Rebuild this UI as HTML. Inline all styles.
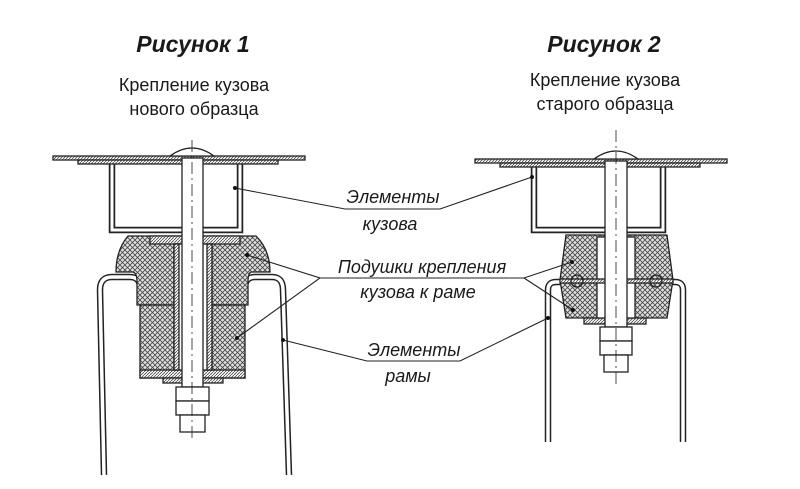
<!DOCTYPE html>
<html><head><meta charset="utf-8"><style>
html,body{margin:0;padding:0;background:#fff}
svg{display:block}
text{font-family:"Liberation Sans",sans-serif;fill:#1a1a1a}
</style></head><body>
<svg width="800" height="489" viewBox="0 0 800 489" xmlns="http://www.w3.org/2000/svg">
<defs>
<pattern id="hx" width="5" height="5" patternUnits="userSpaceOnUse">
<rect width="5" height="5" fill="#e0e0e0"/>
<path d="M0 0L5 5M5 0L0 5" stroke="#444" stroke-width="0.8"/>
</pattern>
<pattern id="hd" width="3" height="3" patternUnits="userSpaceOnUse">
<rect width="3" height="3" fill="#fff"/>
<path d="M0 3L3 0" stroke="#444" stroke-width="0.8"/>
</pattern>
</defs>
<g stroke="#222" stroke-width="1.3">
<!-- FIGURE 1 -->
<path d="M104 475 L100 290 Q100 277 112 277 L130 277 Q140 277 140 288 L140 300" fill="none" stroke-width="6.5"/>
<path d="M104 475 L100 290 Q100 277 112 277 L130 277 Q140 277 140 288 L140 300" fill="none" stroke="#fff" stroke-width="3.5"/>
<path d="M289 475 L283 290 Q283 277 272 277 L255 277 Q245 277 245 288 L245 300" fill="none" stroke-width="6.5"/>
<path d="M289 475 L283 290 Q283 277 272 277 L255 277 Q245 277 245 288 L245 300" fill="none" stroke="#fff" stroke-width="3.5"/>
<path d="M128 236 L256 236 Q270 250 270 272 L252 272 Q248 272 248 282 L248 305 L137 305 L137 282 Q137 272 132 272 L116 272 Q116 250 128 236Z" fill="url(#hx)"/>
<rect x="140" y="305" width="105" height="73" fill="url(#hx)"/>
<rect x="140" y="370" width="105" height="8" fill="url(#hd)"/>
<rect x="163" y="378" width="60" height="5" fill="url(#hd)"/>
<rect x="150" y="236" width="90" height="8" fill="url(#hd)"/>
<rect x="174" y="244" width="38" height="126" fill="#fff"/>
<rect x="174" y="244" width="5" height="126" fill="url(#hd)"/>
<rect x="207" y="244" width="5" height="126" fill="url(#hd)"/>
<path d="M112 162 L112 230 L240 230 L240 162" fill="none" stroke-width="6.5"/>
<path d="M112 162 L112 230 L240 230 L240 162" fill="none" stroke="#fff" stroke-width="3"/>
<rect x="53" y="156" width="252" height="4" fill="url(#hd)"/>
<rect x="78" y="160" width="200" height="4" fill="url(#hd)"/>
<path d="M170 156 Q192 140 214 156Z" fill="#fff"/>
<rect x="182" y="158" width="21" height="229" fill="#fff"/>
<rect x="176" y="387" width="33" height="14" fill="#fff"/>
<rect x="176" y="401" width="33" height="14" fill="#fff"/>
<rect x="180" y="415" width="25" height="17" fill="#fff"/>
<path d="M192 140 V440" stroke-dasharray="12 4 2 4" stroke-width="0.8"/>

<!-- FIGURE 2 -->
<path d="M548 442 L548 290 Q548 282 556 282 L590 282" fill="none" stroke-width="6.5"/>
<path d="M548 442 L548 290 Q548 282 556 282 L590 282" fill="none" stroke="#fff" stroke-width="3.5"/>
<path d="M683 442 L683 290 Q683 282 675 282 L640 282" fill="none" stroke-width="6.5"/>
<path d="M683 442 L683 290 Q683 282 675 282 L640 282" fill="none" stroke="#fff" stroke-width="3.5"/>
<path d="M566 235 L667 235 L673 280 L667 318 L566 318 L560 280Z" fill="url(#hx)"/>
<rect x="584" y="318" width="62" height="6" fill="url(#hd)"/>
<rect x="597" y="237" width="38" height="81" fill="#fff"/>
<rect x="560" y="279" width="113" height="4" fill="url(#hd)"/>
<circle cx="577" cy="281" r="6" fill="none"/>
<circle cx="656" cy="281" r="6" fill="none"/>
<path d="M534 165 L534 230 L663 230 L663 165" fill="none" stroke-width="6.5"/>
<path d="M534 165 L534 230 L663 230 L663 165" fill="none" stroke="#fff" stroke-width="3"/>
<rect x="475" y="159" width="252" height="4" fill="url(#hd)"/>
<rect x="500" y="163" width="200" height="4" fill="url(#hd)"/>
<path d="M594 159 Q616 143 638 159Z" fill="#fff"/>
<rect x="605" y="161" width="22" height="166" fill="#fff"/>
<rect x="600" y="327" width="32" height="14" fill="#fff"/>
<rect x="600" y="341" width="32" height="14" fill="#fff"/>
<rect x="604" y="355" width="24" height="17" fill="#fff"/>
<path d="M616 130 V385" stroke-dasharray="12 4 2 4" stroke-width="0.8"/>

<g fill="none" stroke-width="1.1">
<path d="M235 188 L345 209 L440 209 L532 177"/>
<path d="M247 255 L320 278 L237 338 M320 278 L524 278 L572 262 M524 278 L573 310"/>
<path d="M283 340 L367 361 L460 361 L548 318"/>
</g>
</g>
<g fill="#111">
<circle cx="235" cy="188" r="2"/><circle cx="532" cy="177" r="2"/>
<circle cx="247" cy="255" r="2"/><circle cx="237" cy="338" r="2"/>
<circle cx="572" cy="262" r="2"/><circle cx="573" cy="310" r="2"/>
<circle cx="283" cy="340" r="2"/><circle cx="548" cy="318" r="2"/>
</g>
<text x="193" y="52" font-size="23" font-weight="bold" font-style="italic" text-anchor="middle" fill="#111">Рисунок 1</text>
<text x="194" y="91" font-size="18" text-anchor="middle">Крепление кузова</text>
<text x="194" y="115" font-size="18" text-anchor="middle">нового образца</text>
<text x="604" y="52" font-size="23" font-weight="bold" font-style="italic" text-anchor="middle" fill="#111">Рисунок 2</text>
<text x="605" y="86" font-size="18" text-anchor="middle">Крепление кузова</text>
<text x="605" y="110" font-size="18" text-anchor="middle">старого образца</text>
<g font-size="18" font-style="italic" text-anchor="middle">
<text x="393" y="203">Элементы</text>
<text x="390" y="230">кузова</text>
<text x="422" y="273">Подушки крепления</text>
<text x="418" y="298">кузова к раме</text>
<text x="414" y="356">Элементы</text>
<text x="408" y="382">рамы</text>
</g>
</svg>
</body></html>
